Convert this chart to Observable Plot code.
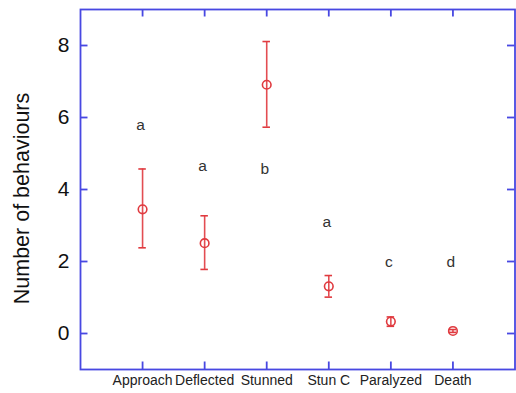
<!DOCTYPE html>
<html>
<head>
<meta charset="utf-8">
<script src="https://cdn.jsdelivr.net/npm/d3@7"></script>
<script src="https://cdn.jsdelivr.net/npm/@observablehq/plot@0.6"></script>
<style>
  html, body { margin: 0; padding: 0; background: #fff; }
  #chart svg { display: block; }
</style>
</head>
<body>
<div id="chart"></div>
<script>
const categories = ["Approach", "Deflected", "Stunned", "Stun C", "Paralyzed", "Death"];
const means  = [3.45, 2.51, 6.91, 1.31, 0.33, 0.07];
const upper  = [4.57, 3.27, 8.11, 1.61, 0.46, 0.11];
const lower  = [2.38, 1.78, 5.73, 1.01, 0.20, 0.03];
const letters = ["a", "a", "b", "a", "c", "d"];
const letterY = [5.8, 4.64, 4.58, 3.09, 1.98, 1.98];
const yTicks = [0, 2, 4, 6, 8];
const yLabel = "Number of behaviours";

const W = 516, H = 393;
const mL = 80, mR = 1.5, mT = 9, mB = 24;
const xDom = [0, 7], yDom = [-1, 9];
const innerH = H - mT - mB, innerW = W - mL - mR;
const tickLen = 7.5;
// tick length expressed in data units of each scale
const tyLen = tickLen * (yDom[1] - yDom[0]) / innerH;
const txLen = tickLen * (xDom[1] - xDom[0]) / innerW;
const blue = "#4848e2";
const red = "#e03a3f";

const xPos = categories.map((_, i) => i + 1);
const rows = categories.map((c, i) => ({
  x: i + 1, cat: c, mean: means[i], hi: upper[i], lo: lower[i],
  letter: letters[i], ly: letterY[i]
}));

const chart = Plot.plot({
  width: W, height: H,
  marginLeft: mL, marginRight: mR, marginTop: mT, marginBottom: mB,
  style: { fontFamily: "Arial, 'Liberation Sans', sans-serif", background: "#fff" },
  x: { domain: xDom },
  y: { domain: yDom },
  marks: [
    Plot.axisX({ ticks: xPos, tickSize: 0, tickPadding: 6, fontSize: 14, color: "#222",
      tickFormat: d => categories[d - 1], label: null }),
    Plot.axisY({ ticks: yTicks, tickSize: 0, tickPadding: 11, fontSize: 21, color: "#111", label: null }),
    Plot.text([yLabel], { text: d => d, frameAnchor: "left", textAnchor: "middle", lineAnchor: "middle",
      rotate: -90, dx: -58.5, dy: 9, fontSize: 21.5, fill: "#111" }),
    // inward ticks on all four sides
    Plot.ruleX(xPos, { x: d => d, y1: yDom[0], y2: yDom[0] + tyLen, stroke: blue, strokeWidth: 1.8 }),
    Plot.ruleX(xPos, { x: d => d, y1: yDom[1] - tyLen, y2: yDom[1], stroke: blue, strokeWidth: 1.8 }),
    Plot.ruleY(yTicks, { y: d => d, x1: xDom[0], x2: xDom[0] + txLen, stroke: blue, strokeWidth: 1.8 }),
    Plot.ruleY(yTicks, { y: d => d, x1: xDom[1] - txLen, x2: xDom[1], stroke: blue, strokeWidth: 1.8 }),
    Plot.frame({ stroke: blue, strokeWidth: 1.8 }),
    // error bars
    Plot.ruleX(rows, { x: "x", y1: "lo", y2: "hi", stroke: red, strokeWidth: 1.6, strokeOpacity: 0.9 }),
    Plot.ruleY(rows, { y: "hi", x1: d => d.x - txLen / 2, x2: d => d.x + txLen / 2, stroke: red, strokeWidth: 1.6 }),
    Plot.ruleY(rows, { y: "lo", x1: d => d.x - txLen / 2, x2: d => d.x + txLen / 2, stroke: red, strokeWidth: 1.6 }),
    Plot.dot(rows, { x: "x", y: "mean", r: 4.3, stroke: red, strokeWidth: 1.6, fill: "none" }),
    // significance letters
    Plot.text(rows, { x: "x", y: "ly", text: "letter", fontSize: 15.5, fill: "#333", dx: -2 })
  ]
});
document.getElementById("chart").appendChild(chart);
</script>
</body>
</html>
